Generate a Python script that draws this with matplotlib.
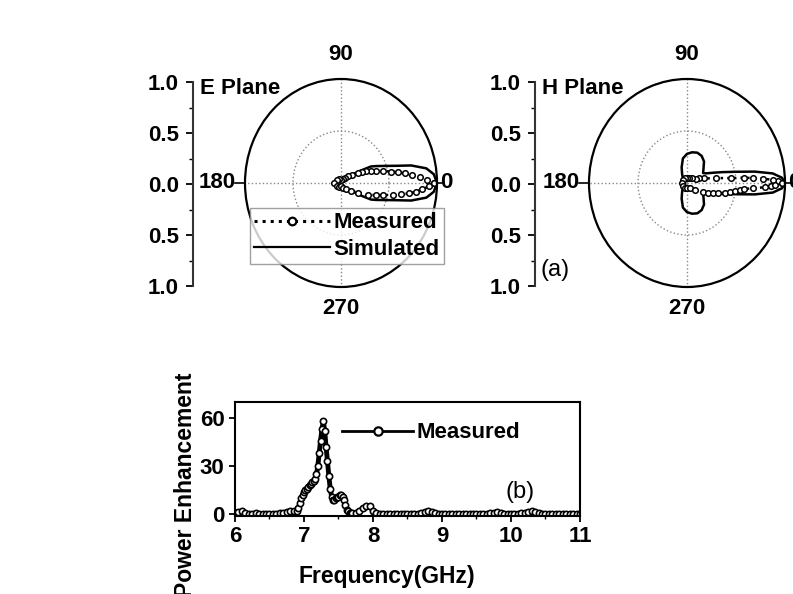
import numpy as np
import matplotlib
matplotlib.use('Agg')
import matplotlib.pyplot as plt
from matplotlib.lines import Line2D

plt.rcParams['font.family'] = ['Liberation Sans', 'DejaVu Sans']
plt.rcParams['font.weight'] = 'bold'
plt.rcParams['font.size'] = 16

# E plane pattern (angle in degrees, normalised amplitude)
e_sim_deg = [0, 5, 9, 13, 16, 20, 24, 27, 31, 35, 45, 60, 90, 120, 150, 180,
             210, 240, 270, 300, 315, 325, 329, 333, 336, 340, 344, 347, 351, 355, 360]
e_sim_r = [1.00, 0.97, 0.90, 0.75, 0.60, 0.48, 0.40, 0.35, 0.22, 0.12, 0.07, 0.05, 0.035, 0.05, 0.06, 0.07,
           0.06, 0.05, 0.035, 0.05, 0.07, 0.12, 0.22, 0.35, 0.40, 0.48, 0.60, 0.75, 0.90, 0.97, 1.00]
e_meas_deg = [0, 2, 4, 6, 8, 10, 12, 15, 18, 21, 24, 27, 30, 35, 40, 50, 60, 90, 120, 150, 180,
              210, 240, 270, 300, 315, 325, 332, 338, 342, 345, 348, 350, 352, 354, 356, 358]
e_meas_r = [0.97, 0.90, 0.82, 0.74, 0.67, 0.60, 0.53, 0.45, 0.38, 0.33, 0.28, 0.24, 0.20, 0.14, 0.10, 0.06, 0.04,
            0.03, 0.04, 0.05, 0.07,
            0.05, 0.04, 0.03, 0.05, 0.08, 0.13, 0.20, 0.30, 0.38, 0.45, 0.55, 0.63, 0.72, 0.79, 0.85, 0.92]

# H plane pattern
h_sim_deg = [0, 3, 6, 9, 12, 16, 20, 25, 30, 40, 50, 60, 70, 80, 90, 100, 110, 120, 135, 150, 180,
             210, 225, 240, 250, 260, 270, 280, 290, 300, 310, 320, 330, 335, 340, 344, 348, 351, 354, 357, 360]
h_sim_r = [1.00, 0.97, 0.88, 0.70, 0.52, 0.38, 0.29, 0.22, 0.19, 0.22, 0.27, 0.30, 0.31, 0.30, 0.28, 0.24, 0.16, 0.10, 0.06, 0.05, 0.05,
           0.05, 0.06, 0.10, 0.16, 0.24, 0.28, 0.30, 0.31, 0.30, 0.27, 0.22, 0.19, 0.22, 0.29, 0.38, 0.52, 0.70, 0.88, 0.97, 1.00]
h_meas_deg = [0, 1, 2, 3, 4, 5, 6, 9, 14, 20, 25, 40, 60, 90, 120, 150, 180, 210, 240, 270, 300,
              320, 332, 336, 340, 343, 346, 349, 351, 353, 354, 356, 357, 358, 359]
h_meas_r = [0.97, 0.93, 0.88, 0.78, 0.68, 0.58, 0.45, 0.30, 0.18, 0.13, 0.10, 0.07, 0.05, 0.05, 0.05, 0.05, 0.05,
            0.05, 0.05, 0.05, 0.06,
            0.10, 0.18, 0.23, 0.28, 0.33, 0.40, 0.45, 0.50, 0.55, 0.58, 0.68, 0.80, 0.86, 0.90]

# power enhancement vs frequency
freq = np.round(np.concatenate([np.arange(6.0, 6.86, 0.05),
                                np.arange(6.90, 7.701, 0.02),
                                np.arange(7.75, 11.001, 0.05)]), 2)
power = [1.0, 1.5, 2.0, 1.0, 0.5, 0.5, 0.8, 0.5, 0.5, 0.3, 0.3, 0.5, 0.5, 0.8, 1.0, 1.5, 2.0, 2.0,
         # 6.90 - 7.70
         2, 4, 7, 10, 12, 14, 15, 16, 17, 18, 19, 20, 21, 22, 25, 30, 38, 46, 53, 58,
         52, 42, 33, 24, 16, 11, 9, 9, 10, 11, 11, 12, 12, 11, 9, 6, 3, 2, 1, 1, 1,
         # 7.75 - 11.00
         1.0, 2.0, 4.0, 5.0, 5.0, 2.0, 1.0, 0.5, 0.5, 0.5, 0.3, 0.3, 0.5, 0.5, 0.3, 0.3, 0.5, 0.5, 0.5, 0.8,
         1.5, 2.0, 1.5, 0.8, 0.5, 0.3, 0.3, 0.5, 0.5, 0.3, 0.3, 0.5, 0.5, 0.5, 0.3, 0.3, 0.5, 0.5, 0.5, 0.8,
         1.0, 1.5, 1.0, 0.5, 0.5, 0.3, 0.5, 0.5, 0.8, 1.0, 1.5, 2.0, 1.5, 0.8, 0.5, 0.5, 0.3, 0.3, 0.5, 0.5,
         0.3, 0.3, 0.5, 0.5, 0.5, 0.5]

radial_ticks = ['1.0', '0.5', '0.0', '0.5', '1.0']

W, H = 793, 594
fig = plt.figure(figsize=(7.93, 5.94), dpi=100)


def fx(px):
    return px / W


def fy(py):
    return 1 - py / H


def polar_panel(cx, rx, ry, axis_x, sim_deg, sim_r, meas_deg, meas_r, title):
    ax = fig.add_axes([fx(cx - rx), fy(183 + ry), fx(2 * rx), 2 * ry / H], projection='polar')
    ax.set_aspect('auto')
    ax.plot(np.deg2rad(sim_deg), sim_r, '-', color='k', lw=1.8)
    ax.plot(np.deg2rad(meas_deg + meas_deg[:1]), meas_r + meas_r[:1], ':', color='k', lw=1.8,
            marker='o', ms=4, mfc='white', mec='k', mew=1.1)
    ax.set_ylim(0, 1)
    ax.set_rticks([0.5])
    ax.set_yticklabels([])
    ax.set_thetagrids([0, 90, 180, 270], ['', '', '', ''])
    ax.grid(True, color='#888888', ls=':', lw=1.0)
    ax.spines['polar'].set_linewidth(1.6)
    # short tick dashes at 180 and 0
    ax.plot([-0.05, 0.0], [0.5, 0.5], transform=ax.transAxes, clip_on=False, color='k', lw=1.2)
    ax.plot([1.0, 1.03], [0.5, 0.5], transform=ax.transAxes, clip_on=False, color='k', lw=1.2)
    fig.text(fx(cx), fy(55), '90', ha='center', va='center')
    fig.text(fx(cx), fy(308), '270', ha='center', va='center')
    fig.text(fx(cx - rx - 9), fy(183), '180', ha='right', va='center')
    fig.text(fx(cx + rx + 3), fy(183), '0', ha='left', va='center')

    # linear amplitude axis at the left
    lax = fig.add_axes([fx(axis_x), fy(286), 0.01, 204 / H])
    lax.set_ylim(-1, 1)
    lax.set_xlim(0, 1)
    for s in ['top', 'right', 'bottom']:
        lax.spines[s].set_visible(False)
    lax.spines['left'].set_linewidth(1.5)
    lax.spines['left'].set_color('#333333')
    lax.set_xticks([])
    lax.set_yticks([1, 0.5, 0, -0.5, -1])
    lax.set_yticklabels(radial_ticks)
    lax.set_yticks([0.75, 0.25, -0.25, -0.75], minor=True)
    lax.tick_params(axis='y', which='major', direction='out', length=5, width=1.3, pad=5)
    lax.tick_params(axis='y', which='minor', direction='out', length=3, width=1.0)
    lax.patch.set_visible(False)
    fig.text(fx(axis_x + 7), fy(88), title, ha='left', va='center')
    return ax


ax_e = polar_panel(341, 96, 104, 193, e_sim_deg, e_sim_r, e_meas_deg, e_meas_r, 'E Plane')
ax_h = polar_panel(687, 98, 104, 535, h_sim_deg, h_sim_r, h_meas_deg, h_meas_r, 'H Plane')
fig.text(fx(540), fy(270), '(a)', ha='left', va='center', fontweight='normal', fontsize=17)

handles = [Line2D([], [], ls=':', color='k', lw=2.2, marker='o', ms=5.5, mfc='white', mec='k', mew=1.6),
           Line2D([], [], ls='-', color='k', lw=1.6)]
leg = fig.legend(handles, ['Measured', 'Simulated'], loc='upper left',
                 bbox_to_anchor=(fx(250), fy(208)), frameon=True, fancybox=False,
                 handlelength=3.4, handletextpad=0.15, borderpad=0.2, labelspacing=0.25,
                 borderaxespad=0, markerfirst=True)
leg.get_frame().set_edgecolor('#888888')
leg.get_frame().set_linewidth(1.0)
leg.set_zorder(10)

# bottom panel
bx = fig.add_axes([fx(235), fy(516), fx(345), 114 / H])
bx.plot(freq, power, '-', color='k', lw=3.5, marker='o', ms=4.5, mfc='white', mec='k', mew=1.2)
bx.set_xlim(6, 11)
bx.set_ylim(-1, 70)
bx.set_xticks([6, 7, 8, 9, 10, 11])
bx.set_xticks([6.5, 7.5, 8.5, 9.5, 10.5], minor=True)
bx.set_yticks([0, 30, 60])
for s in bx.spines.values():
    s.set_linewidth(1.5)
bx.tick_params(axis='both', which='major', direction='out', length=4, width=1.3)
bx.tick_params(axis='x', which='minor', direction='out', length=2.5, width=1.0)
meas_handle = Line2D([], [], ls='-', color='k', lw=2.0, marker='o', ms=6, mfc='white', mec='k', mew=1.6)
bx.legend([meas_handle], ['Measured'], loc='center left', bbox_to_anchor=(0.31, 0.73), frameon=False,
          handlelength=3.2, handletextpad=0.15, borderpad=0, borderaxespad=0)
bx.text(10.13, 14, '(b)', ha='center', va='center', fontweight='normal', fontsize=17)
fig.text(fx(387), fy(576), 'Frequency(GHz)', ha='center', va='center', fontsize=16.5)
fig.text(fx(186), fy(485), 'Power Enhancement', ha='center', va='center', rotation=90, fontsize=16.5)

fig.savefig('out.png', dpi=100)
